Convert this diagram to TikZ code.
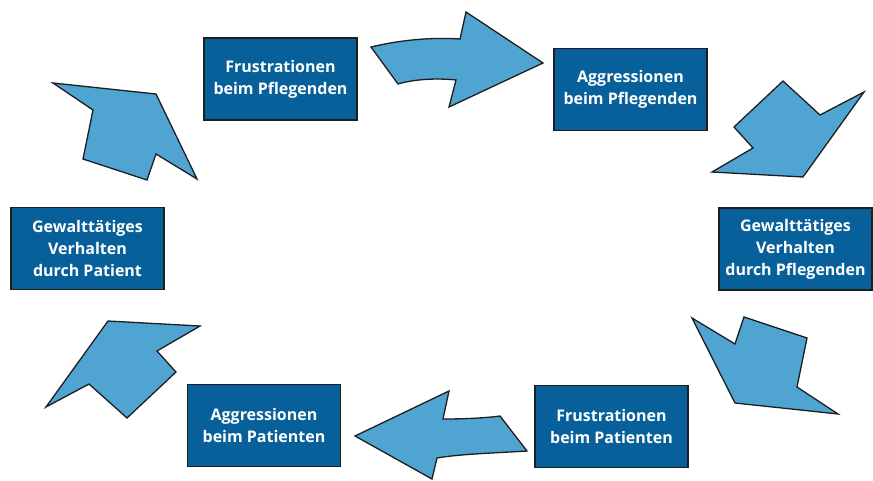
\documentclass[tikz,border=0pt]{standalone}
\usepackage{fontspec}
\setmainfont{Open Sans}
\definecolor{boxblue}{RGB}{8,96,155}
\definecolor{arrowblue}{RGB}{80,164,210}
\definecolor{edgegray}{RGB}{30,30,30}
\tikzset{
  cyclebox/.style={draw=edgegray, line width=1.4pt, fill=boxblue, text=white,
    minimum width=153pt, minimum height=82pt, inner sep=0pt, align=center,
    font=\fontsize{16}{22}\selectfont\bfseries},
  blockarrow/.style={draw=edgegray, line width=1.3pt, fill=arrowblue, line join=miter}
}
\begin{document}
\begin{tikzpicture}[x=1pt,y=-1pt]
\useasboundingbox (0,0) rectangle (873,480);

% the six stations of the cycle
\node[cyclebox] (frPfl)  at (280.5,79)   {Frustrationen\\beim Pflegenden};
\node[cyclebox] (agPfl)  at (630.5,89.5) {Aggressionen\\beim Pflegenden};
\node[cyclebox] (gwPfl)  at (795.5,249)  {Gewalttätiges\\Verhalten\\durch Pflegenden};
\node[cyclebox] (frPat)  at (611.5,426.5){Frustrationen\\beim Patienten};
\node[cyclebox] (agPat)  at (264,425.5)  {Aggressionen\\beim Patienten};
\node[cyclebox] (gwPat)  at (87.5,248.5) {Gewalttätiges\\Verhalten\\durch Patient};

% top arrow, pointing right
\draw[blockarrow] (371,47) .. controls (400,40) and (432,37) .. (460,39)
  -- (466,12) -- (543,63) -- (449,107) -- (456,80)
  .. controls (437,78) and (415,79) .. (398,84) -- cycle;

% upper right arrow, pointing down-left
\draw[blockarrow] (783,81) -- (820,115) -- (864,92) -- (803,177)
  -- (712,172) -- (753,148) -- (734,127) -- cycle;

% lower right arrow, pointing down-right
\draw[blockarrow] (692,318) -- (735,344) -- (744,317) -- (807,338)
  -- (797,387) -- (838,414) -- (735,403) -- cycle;

% bottom arrow, pointing left
\draw[blockarrow] (355,436) -- (449,391) -- (443,419)
  .. controls (465,419) and (485,418) .. (500,416)
  -- (527,451) .. controls (495,453) and (460,454) .. (437,458)
  -- (432,479) -- cycle;

% lower left arrow, pointing up-right
\draw[blockarrow] (108,321) -- (200,326) -- (157,351) -- (176,372)
  -- (127,418) -- (89,384) -- (46,407) -- cycle;

% upper left arrow, pointing up-left
\draw[blockarrow] (53,83) -- (156,94) -- (197,179) -- (156,154)
  -- (147,180) -- (83,159) -- (93,110) -- cycle;
\end{tikzpicture}
\end{document}
